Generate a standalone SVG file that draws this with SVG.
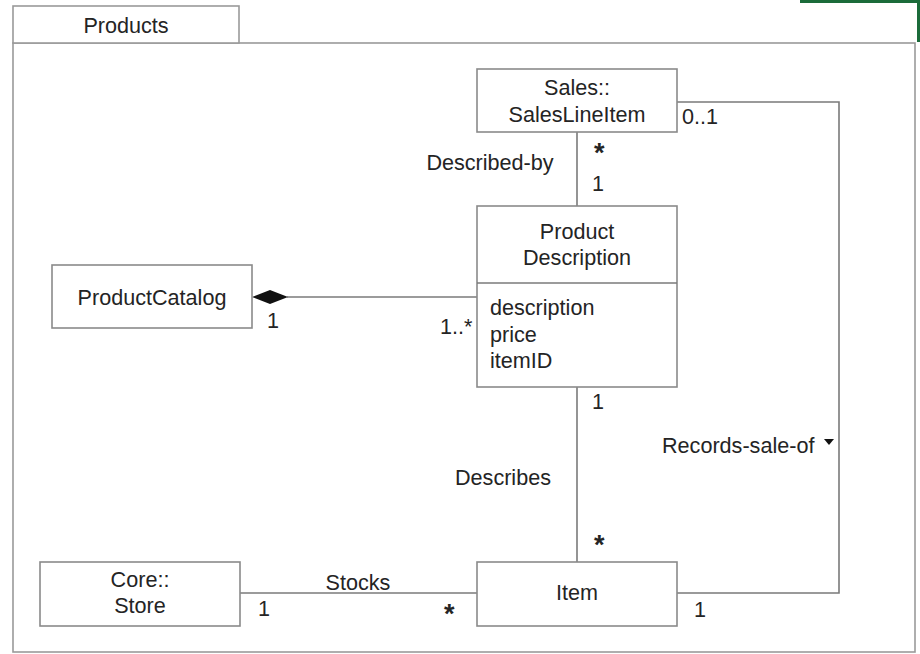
<svg xmlns="http://www.w3.org/2000/svg" width="920" height="654" viewBox="0 0 920 654">
<style>
.box{fill:#fff;stroke:#8a8a8a;stroke-width:1.6}
.frame{fill:#fff;stroke:#9a9a9a;stroke-width:1.6}
.ln{fill:none;stroke:#7a7a7a;stroke-width:1.6}
text{font-family:"Liberation Sans",Arial,sans-serif;font-size:21.6px;fill:#242424}
.c{text-anchor:middle}
.star{font-weight:bold;font-size:27px}
</style>
<rect width="920" height="654" fill="#fff"/>
<g id="decor">
<rect x="800" y="0" width="120" height="3" fill="#1b6b3a"/>
<rect x="917" y="0" width="3" height="42" fill="#1b6b3a"/>
</g>
<g id="package">
<rect class="frame" x="13" y="43" width="902" height="609"/>
<rect class="frame" x="13" y="6" width="226" height="37"/>
<text class="c" x="126" y="33">Products</text>
</g>
<g id="connectors">
<line class="ln" x1="577" y1="132" x2="577" y2="206"/>
<line class="ln" x1="577" y1="387" x2="577" y2="562"/>
<line class="ln" x1="287" y1="297" x2="477" y2="297"/>
<polygon points="252,297 270,290 288,297 270,304" fill="#111"/>
<line class="ln" x1="240" y1="593" x2="477" y2="593"/>
<polyline class="ln" points="677,102 839,102 839,593 677,593"/>
<polygon points="824,439 834,439 829,445" fill="#111"/>
<text x="682" y="124">0..1</text>
<text class="star" x="594" y="162">*</text>
<text x="592" y="191">1</text>
<text class="c" x="490" y="170">Described-by</text>
<text x="267" y="328">1</text>
<text x="440" y="334">1..*</text>
<text x="592" y="409">1</text>
<text class="c" x="503" y="485">Describes</text>
<text class="star" x="594" y="554">*</text>
<text x="662" y="453">Records-sale-of</text>
<text class="c" x="358" y="590">Stocks</text>
<text x="258" y="616">1</text>
<text class="star" x="444" y="623">*</text>
<text x="694" y="617">1</text>
</g>
<g id="SalesLineItem">
<rect class="box" x="477" y="69" width="200" height="63"/>
<text class="c" x="577" y="95">Sales::</text>
<text class="c" x="577" y="122">SalesLineItem</text>
</g>
<g id="ProductDescription">
<rect class="box" x="477" y="206" width="200" height="181"/>
<line class="ln" x1="477" y1="283" x2="677" y2="283"/>
<text class="c" x="577" y="239">Product</text>
<text class="c" x="577" y="265">Description</text>
<text x="490" y="315">description</text>
<text x="490" y="342">price</text>
<text x="490" y="368">itemID</text>
</g>
<g id="ProductCatalog">
<rect class="box" x="52" y="265" width="200" height="63"/>
<text class="c" x="152" y="305">ProductCatalog</text>
</g>
<g id="Store">
<rect class="box" x="40" y="562" width="200" height="64"/>
<text class="c" x="140" y="587">Core::</text>
<text class="c" x="140" y="613">Store</text>
</g>
<g id="Item">
<rect class="box" x="477" y="562" width="200" height="64"/>
<text class="c" x="577" y="600">Item</text>
</g>
</svg>
